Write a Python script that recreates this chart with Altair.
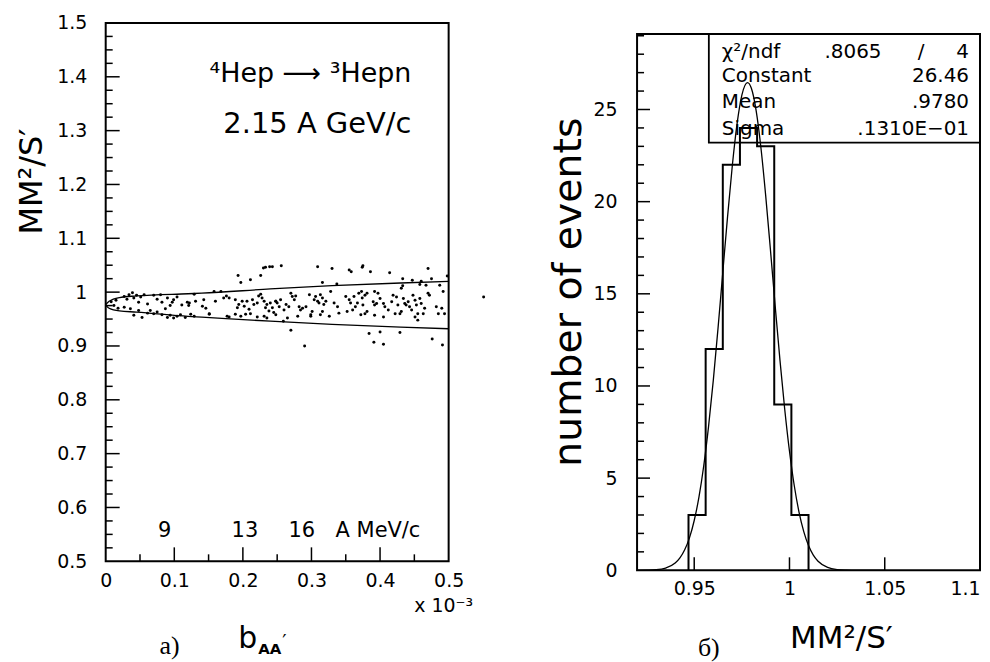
import altair as alt
import pandas as pd

FONT = "DejaVu Sans"
SERIF = "Liberation Serif"

# ---------------- left panel data ----------------
scatter_x = [
    0.008, 0.012, 0.015, 0.018,
    0.027, 0.031, 0.034, 0.039, 0.041, 0.045, 0.048, 0.051, 0.056, 0.061, 0.070, 0.075, 0.080, 0.082,
    0.090, 0.094, 0.097, 0.099, 0.104, 0.111, 0.119, 0.121,
    0.027, 0.036, 0.041, 0.048, 0.053, 0.061, 0.065, 0.070, 0.075, 0.082, 0.087, 0.090, 0.094, 0.099,
    0.104, 0.109, 0.116,
    0.193, 0.197, 0.211, 0.226, 0.230, 0.233, 0.239, 0.243,
    0.122, 0.129, 0.131, 0.141, 0.146, 0.151, 0.143, 0.158, 0.160, 0.168, 0.172, 0.176, 0.180, 0.189,
    0.194, 0.192, 0.199, 0.202, 0.206, 0.209, 0.214, 0.216, 0.221, 0.223, 0.226, 0.228, 0.231, 0.233,
    0.235, 0.238, 0.240, 0.243, 0.245, 0.248, 0.124, 0.129, 0.151, 0.177, 0.180, 0.189, 0.197, 0.204,
    0.211, 0.221, 0.231, 0.235,
    0.256, 0.309, 0.330, 0.355, 0.358, 0.374, 0.316, 0.337, 0.270, 0.290, 0.259,
    0.248, 0.250, 0.253, 0.255, 0.260, 0.263, 0.267, 0.270, 0.272, 0.277, 0.275, 0.282, 0.284, 0.287,
    0.292, 0.297, 0.299, 0.301, 0.304, 0.306, 0.309, 0.311, 0.313, 0.316, 0.318, 0.321, 0.316, 0.326,
    0.328, 0.333, 0.338, 0.340, 0.350, 0.352, 0.355, 0.357, 0.360, 0.362, 0.364, 0.367, 0.369, 0.372,
    0.374, 0.280, 0.299, 0.248, 0.313, 0.265,
    0.375, 0.386, 0.414, 0.433, 0.447, 0.460, 0.470, 0.475, 0.498, 0.433, 0.458, 0.487,
    0.384, 0.400, 0.429, 0.391, 0.405, 0.476, 0.491,
    0.373, 0.378, 0.381, 0.392, 0.397, 0.375, 0.378, 0.381, 0.390, 0.392, 0.395, 0.400, 0.405, 0.407,
    0.392, 0.405, 0.419, 0.424, 0.422, 0.426, 0.429, 0.431, 0.434, 0.436, 0.438, 0.441, 0.443, 0.446,
    0.448, 0.451, 0.453, 0.455, 0.458, 0.460, 0.463, 0.465, 0.470, 0.472, 0.451, 0.455, 0.482, 0.485,
    0.490, 0.492, 0.494, 0.431, 0.467, 0.412, 0.417,
]
scatter_y = [
    0.982, 0.975, 0.985, 0.970,
    0.992, 0.987, 0.995, 0.999, 0.989, 0.994, 0.981, 0.991, 0.995, 0.978, 0.994, 0.987, 0.995, 0.981,
    0.989, 0.975, 0.981, 0.986, 0.991, 0.976, 0.981, 0.975,
    0.972, 0.969, 0.957, 0.966, 0.953, 0.961, 0.966, 0.960, 0.963, 0.958, 0.969, 0.953, 0.957, 0.952,
    0.955, 0.958, 0.953,
    1.031, 1.018, 1.023, 1.031, 1.045, 1.046, 1.047, 1.047,
    0.980, 0.996, 0.983, 0.974, 0.970, 0.960, 0.986, 1.001, 0.983, 1.001, 0.989, 0.993, 0.989, 0.986,
    0.977, 0.971, 0.983, 0.974, 0.983, 0.968, 0.986, 0.977, 0.980, 0.993, 0.996, 0.989, 0.983, 0.971,
    0.977, 0.965, 0.980, 0.971, 0.962, 0.983, 0.959, 0.955, 0.959, 0.955, 0.954, 0.959, 0.955, 0.959,
    0.960, 0.954, 0.955, 0.952,
    1.049, 1.047, 1.044, 1.041, 1.038, 1.046, 1.018, 1.015, 0.929, 0.900, 0.946,
    0.983, 0.980, 0.973, 0.986, 0.967, 0.977, 0.973, 0.998, 0.992, 0.993, 0.986, 0.973, 0.967, 0.970,
    0.973, 0.995, 0.958, 0.964, 0.986, 0.992, 0.983, 0.980, 0.995, 0.989, 0.977, 0.983, 0.964, 0.955,
    1.001, 0.980, 0.973, 0.961, 0.992, 0.964, 0.986, 0.980, 0.967, 0.992, 0.973, 0.980, 0.998, 0.958,
    0.989, 0.955, 0.955, 0.958, 0.958, 0.952,
    1.049, 1.038, 1.036, 1.025, 1.022, 1.020, 1.044, 1.025, 1.030, 1.012, 1.014, 1.013,
    0.923, 0.926, 0.925, 0.907, 0.903, 0.913, 0.902,
    1.001, 0.994, 0.998, 1.001, 0.998, 0.976, 0.960, 0.964, 0.982, 0.976, 0.979, 0.988, 0.979, 0.973,
    0.957, 0.954, 0.994, 0.991, 0.960, 0.976, 0.960, 0.964, 0.988, 0.979, 0.976, 0.982, 0.973, 0.967,
    0.994, 0.985, 0.976, 0.960, 0.988, 0.979, 0.960, 0.970, 0.998, 0.994, 0.954, 0.948, 0.973, 0.960,
    0.970, 1.001, 0.960, 1.007, 1.013, 0.967, 0.982,
]
outlier_x = [0.551]
outlier_y = [0.991]

env_x = [0.0, 0.005, 0.02, 0.045, 0.12, 0.14, 0.24, 0.33, 0.43, 0.50]
env_upper = [0.977, 0.983, 0.990, 0.993, 0.997, 0.998, 1.006, 1.012, 1.017, 1.020]
env_lower = [0.976, 0.970, 0.965, 0.963, 0.955, 0.9535, 0.946, 0.940, 0.935, 0.932]

mom_labels = ["9", "13", "16", "A MeV/c"]
mom_x = [0.086, 0.203, 0.286, 0.397]
mom_y = [0.556, 0.556, 0.556, 0.556]

left_x_labels = [0, 0.1, 0.2, 0.3, 0.4, 0.5]
left_y_labels = [0.5, 0.6, 0.7, 0.8, 0.9, 1.0, 1.1, 1.2, 1.3, 1.4, 1.5]
left_x_major = [0.1, 0.2, 0.3, 0.4]
left_x_minor = [0.05, 0.15, 0.25, 0.35, 0.45]
left_y_major = [0.6, 0.7, 0.8, 0.9, 1.0, 1.1, 1.2, 1.3, 1.4]
left_y_minor = [0.525, 0.55, 0.575, 0.625, 0.65, 0.675, 0.725, 0.75, 0.775, 0.825, 0.85, 0.875,
                0.925, 0.95, 0.975, 1.025, 1.05, 1.075, 1.125, 1.15, 1.175, 1.225, 1.25, 1.275,
                1.325, 1.35, 1.375, 1.425, 1.45, 1.475]

# ---------------- right panel data ----------------
hist_edges = [0.947, 0.956, 0.965, 0.974, 0.983, 0.992, 1.001, 1.010]
hist_counts = [3, 12, 22, 24, 23, 9, 3]

gauss_x = [0.92, 0.925, 0.93, 0.935, 0.94, 0.9425, 0.945, 0.9475, 0.95, 0.9525, 0.955, 0.9575,
           0.96, 0.9625, 0.965, 0.9675, 0.97, 0.9725, 0.975, 0.978, 0.98, 0.9825, 0.985, 0.9875,
           0.99, 0.9925, 0.995, 0.9975, 1.0, 1.0025, 1.005, 1.0075, 1.01, 1.0125, 1.015, 1.02,
           1.025, 1.03, 1.035, 1.04, 1.05]
gauss_y = [0.0, 0.01, 0.03, 0.12, 0.39, 0.67, 1.11, 1.76, 2.70, 3.98, 5.67, 7.78,
           10.29, 13.14, 16.17, 19.19, 21.96, 24.23, 25.78, 26.46, 26.15, 24.94, 22.94, 20.34,
           17.39, 14.34, 11.40, 8.74, 6.46, 4.60, 3.16, 2.10, 1.34, 0.82, 0.49, 0.155,
           0.04, 0.01, 0.0, 0.0, 0.0]

stat_names = ["χ²/ndf", "Constant", "Mean", "Sigma"]
stat_values = ["4", "26.46", ".9780", ".1310E−01"]
chi2_value = ".8065"

right_x_labels = [0.95, 1.0, 1.05, 1.1]
right_y_labels = [0, 5, 10, 15, 20, 25]
right_x_major = [0.95, 1.0, 1.05]
right_y_major = [5, 10, 15, 20, 25]
right_y_minor = [1, 2, 3, 4, 6, 7, 8, 9, 11, 12, 13, 14, 16, 17, 18, 19, 21, 22, 23, 24, 26, 27, 28, 29]

# ---------------- geometry ----------------
LW, LH = 344, 540
RW, RH = 344, 538


def text(s, x, y, size, align="center", baseline="middle", angle=0, font=FONT, weight="normal"):
    return alt.Chart(pd.DataFrame({"t": [s]})).mark_text(
        align=align, baseline=baseline, fontSize=size, font=font, angle=angle,
        fontWeight=weight, color="black"
    ).encode(x=alt.value(x), y=alt.value(y), text="t:N")


def mk_axis(values, pad, flush):
    return alt.Axis(values=values, format="~g", ticks=False, domain=False, grid=False,
                    labelPadding=pad, title=None, labelFont=FONT, labelFontSize=19,
                    labelColor="black", labelFlush=flush)


# ---------------- left panel ----------------
lxs = alt.Scale(domain=[0, 0.5], nice=False, zero=False)
lys = alt.Scale(domain=[0.5, 1.5], nice=False, zero=False)
LXA = mk_axis(left_x_labels, 10, False)
LYA = mk_axis(left_y_labels, 19, False)


def LX(f):
    return alt.X(f, scale=lxs, axis=LXA, title=None)


def LY(f):
    return alt.Y(f, scale=lys, axis=LYA, title=None)


pts = alt.Chart(pd.DataFrame({"x": scatter_x, "y": scatter_y})).mark_circle(
    size=9, color="black", opacity=1
).encode(x=LX("x:Q"), y=LY("y:Q"))
out_pt = alt.Chart(pd.DataFrame({"x": outlier_x, "y": outlier_y})).mark_circle(
    size=9, color="black", opacity=1
).encode(x=LX("x:Q"), y=LY("y:Q"))

env_df = pd.DataFrame({"x": env_x, "up": env_upper, "lo": env_lower})
env_up = alt.Chart(env_df).mark_line(color="black", strokeWidth=1.3, interpolate="monotone").encode(
    x=LX("x:Q"), y=LY("up:Q"))
env_lo = alt.Chart(env_df).mark_line(color="black", strokeWidth=1.3, interpolate="monotone").encode(
    x=LX("x:Q"), y=LY("lo:Q"))

mom = alt.Chart(pd.DataFrame({"x": mom_x, "y": mom_y, "t": mom_labels})).mark_text(
    fontSize=21, font=FONT, color="black", align="center", baseline="middle"
).encode(x=LX("x:Q"), y=LY("y:Q"), text="t:N")


def yticks(vals, Yf, length):
    return alt.Chart(pd.DataFrame({"v": vals})).mark_rule(color="black", strokeWidth=1.5).encode(
        y=Yf("v:Q"), x=alt.value(0), x2=alt.value(length))


def xticks(vals, Xf, height, length):
    return alt.Chart(pd.DataFrame({"v": vals})).mark_rule(color="black", strokeWidth=1.5).encode(
        x=Xf("v:Q"), y=alt.value(height), y2=alt.value(height - length))


left = alt.layer(
    pts, out_pt, env_up, env_lo, mom,
    yticks(left_y_major, LY, 14), yticks(left_y_minor, LY, 7),
    xticks(left_x_major, LX, LH, 14), xticks(left_x_minor, LX, LH, 7),
    text("⁴Hep ⟶ ³Hepn", 104, 51, 27, align="left"),
    text("2.15 A GeV/c", 118, 101, 29, align="left"),
    text("MM²/S′", -74, 159, 32, angle=270),
    text("x 10⁻³", 339, 585, 19),
    text("a)", 64, 625, 26, font=SERIF),
    text("b", 133, 627, 30, align="left", baseline="alphabetic"),
    text("AA", 153, 633, 15, align="left", baseline="alphabetic", weight="bold"),
    text("′", 177, 627, 19, align="left", baseline="alphabetic"),
).properties(width=LW, height=LH)

# ---------------- right panel ----------------
rxs = alt.Scale(domain=[0.92, 1.1], nice=False, zero=False)
rys = alt.Scale(domain=[0, 29.1], nice=False, zero=False)
RXA = mk_axis(right_x_labels, 9, True)
RYA = mk_axis(right_y_labels, 20, False)


def RX(f):
    return alt.X(f, scale=rxs, axis=RXA, title=None)


def RY(f):
    return alt.Y(f, scale=rys, axis=RYA, title=None)


step_x = [hist_edges[0]] + hist_edges
step_y = [0] + hist_counts + [0]
hist = alt.Chart(pd.DataFrame({"x": step_x, "y": step_y, "i": list(range(len(step_x)))})).mark_line(
    color="black", strokeWidth=2, interpolate="step-after"
).encode(x=RX("x:Q"), y=RY("y:Q"), order="i:Q")
gauss = alt.Chart(pd.DataFrame({"x": gauss_x, "y": gauss_y})).mark_line(
    color="black", strokeWidth=1.3, interpolate="monotone"
).encode(x=RX("x:Q"), y=RY("y:Q"))

box = alt.Chart(pd.DataFrame({"a": [0]})).mark_rect(
    fillOpacity=0, stroke="black", strokeWidth=1.8
).encode(x=alt.value(72), x2=alt.value(RW), y=alt.value(0), y2=alt.value(109))

rows_y = [18, 42, 68, 95]
box_texts = []
for name, val, ry in zip(stat_names, stat_values, rows_y):
    box_texts.append(text(name, 85, ry, 20, align="left"))
    box_texts.append(text(val, 333, ry, 20, align="right"))
box_texts.append(text(chi2_value, 188, rows_y[0], 20, align="left"))
box_texts.append(text("/", 285, rows_y[0], 20))

right = alt.layer(
    box, *box_texts, hist, gauss,
    yticks(right_y_major, RY, 13), yticks(right_y_minor, RY, 7),
    xticks(right_x_major, RX, RH, 13),
    text("number of events", -68, 259, 39.5, angle=270),
    text("б)", 72, 616, 26, font=SERIF),
    text("MM²/S′", 205, 607, 31),
).properties(width=RW, height=RH)

spacer = alt.Chart(pd.DataFrame({"a": [0]})).mark_point(opacity=0).properties(
    width=RW, height=11, view=alt.ViewBackground(stroke="transparent"))

right_col = alt.vconcat(spacer, right, spacing=0, bounds="flush")

chart = alt.hconcat(left, right_col, spacing=189, bounds="flush").properties(
    padding={"left": 7, "top": 4, "right": 0, "bottom": 0}
).configure_view(stroke="black", strokeWidth=2)

chart.save("out.html", embed_options={"renderer": "svg", "actions": False})
